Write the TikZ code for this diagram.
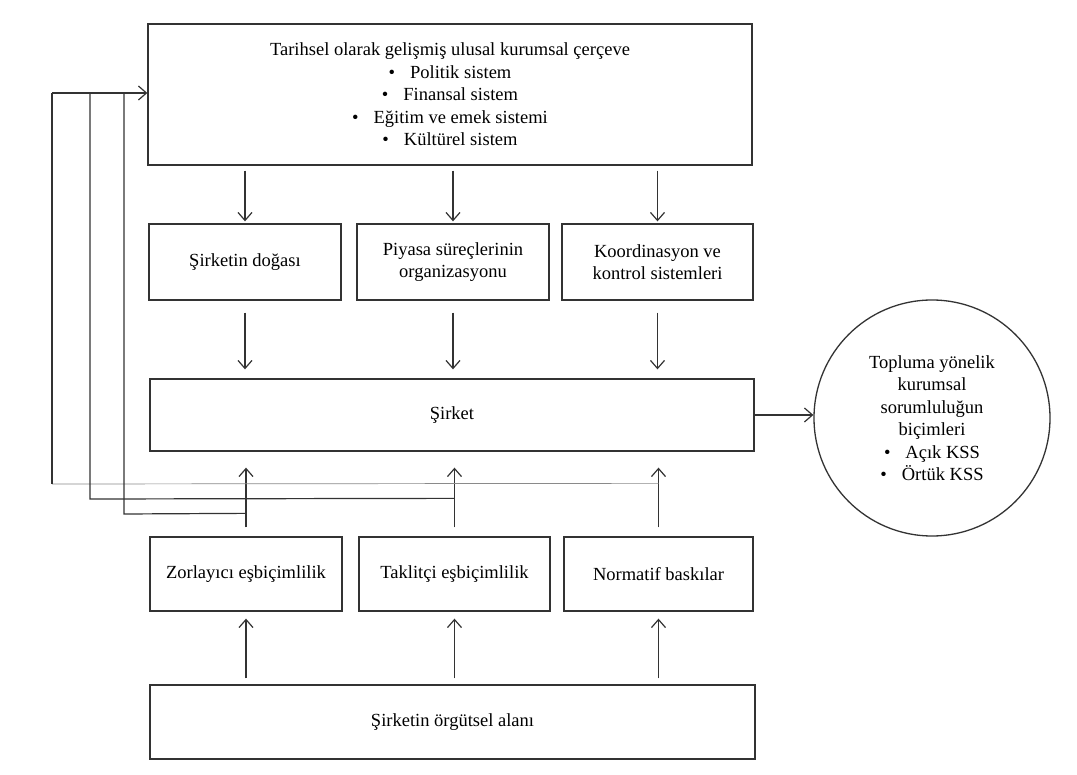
\documentclass[tikz,border=0pt]{standalone}
\usepackage{fontspec}
\setmainfont{Liberation Serif}
\usetikzlibrary{arrows.meta,calc}
\definecolor{lc}{HTML}{333333}
\definecolor{lcthin}{HTML}{8A8A8A}
\newcommand{\myfs}{\fontsize{18.5}{22.5}\selectfont}
\newcommand{\bul}{\textbullet\hspace{15pt}}
\begin{document}
\begin{tikzpicture}[x=1pt,y=-1pt,
  box/.style={draw=lc, line width=1.3pt, inner sep=0pt, align=center, font=\myfs, text=black},
  arr/.style={draw=lc, line width=1.2pt, -{Straight Barb[length=8pt,width=14pt,line width=1.2pt]}},
  ln/.style={draw=lc, line width=1.2pt},
  thinln/.style={draw=lcthin, line width=0.7pt},
]
\useasboundingbox[fill=white] (0,0) rectangle (1077,775);

% nodes
\node[box, minimum width=604pt, minimum height=141pt] (top) at (450,94.5)
  {Tarihsel olarak gelişmiş ulusal kurumsal çerçeve\\
   \bul Politik sistem\\
   \bul Finansal sistem\\
   \bul Eğitim ve emek sistemi\\
   \bul Kültürel sistem};

\node[box, minimum width=192pt, minimum height=76pt] (n1) at (245,262) {Şirketin doğası};
\node[box, minimum width=192pt, minimum height=76pt] (n2) at (453,262) {Piyasa süreçlerinin\\organizasyonu};
\node[box, minimum width=191pt, minimum height=76pt] (n3) at (657.5,262) {Koordinasyon ve\\kontrol sistemleri};

\node[box, minimum width=604pt, minimum height=72pt] (sirket) at (452,415) {Şirket};

\node[box, minimum width=192pt, minimum height=74pt] (m1) at (246,574) {Zorlayıcı eşbiçimlilik};
\node[box, minimum width=191pt, minimum height=74pt] (m2) at (454.5,574) {Taklitçi eşbiçimlilik};
\node[box, minimum width=189pt, minimum height=74pt] (m3) at (658.5,574) {Normatif baskılar};

\node[box, minimum width=605pt, minimum height=74pt] (bot) at (452.5,722) {Şirketin örgütsel alanı};

\node[box, circle, minimum size=236pt] (kss) at (932,418)
  {Topluma yönelik\\kurumsal\\sorumluluğun\\biçimleri\\
   \bul Açık KSS\\
   \bul Örtük KSS};

% top -> row 2
\foreach \n in {n1,n2,n3}{
  \draw[arr] ($(top.south -| \n.north)+(0,5)$) -- ($(\n.north)+(0,-2)$);
  \draw[arr] ($(\n.south)+(0,12)$) -- ($(sirket.north -| \n.south)+(0,-9)$);
}
% row 3 -> sirket, bottom -> row 3
\foreach \m in {m1,m2,m3}{
  \draw[arr] ($(\m.north)+(0,-9)$) -- ($(sirket.south -| \m.north)+(0,16)$);
  \draw[arr] ($(bot.north -| \m.south)+(0,-6)$) -- ($(\m.south)+(0,7)$);
}

% sirket -> circle
\draw[arr] (sirket.east) -- (sirket.east -| kss.west);

% feedback loops
\coordinate (fb1s) at ($(m3.north)+(0,-53)$);
\coordinate (fb1c) at (52,484);
\coordinate (fb1t) at (52,93);
\coordinate (fb2s) at ($(m2.north)+(0,-38)$);
\coordinate (fb2c) at (90,499);
\coordinate (fb2t) at (90,93);
\coordinate (fb3s) at ($(m1.north)+(0,-23)$);
\coordinate (fb3c) at (124,514);
\coordinate (fb3t) at (124,93);
\coordinate (fbend) at (top.west |- 0,93);

\draw[thinln] (fb1s) -- (fb1c);
\draw[ln] (fb1c) -- (fb1t);
\draw[ln] (fb2s) -- (fb2c) -- (fb2t);
\draw[ln] (fb3s) -- (fb3c) -- (fb3t);
\draw[arr] (fb1t) -- (fbend);
\end{tikzpicture}
\end{document}
